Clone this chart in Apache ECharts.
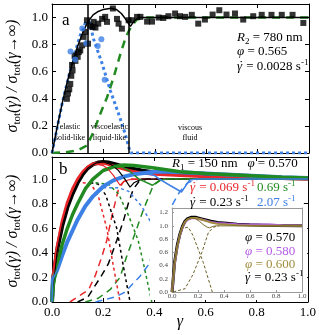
<!DOCTYPE html>
<html><head><meta charset="utf-8">
<script src="https://cdn.jsdelivr.net/npm/echarts/dist/echarts.min.js"></script>
<style>html,body{margin:0;padding:0;background:#fff}#c{width:319px;height:335px}</style>
</head><body><div id="c"></div>
<script>
const F = '"Liberation Serif","Times New Roman",serif';
const RED = '#e8262a', BLK = '#000000', GRN = '#218a21', BLU = '#3d80e6', PUR = '#b45ae6', OLV = '#a08c3c';

// ---------- panel a ----------
const aRegionBounds = [0.14, 0.305];
const aSquares = [[0.058,0.40],[0.062,0.44],[0.067,0.47],[0.071,0.51],[0.075,0.57],[0.078,0.65],[0.08,0.61],[0.088,0.72],[0.091,0.68],[0.10,0.71],[0.104,0.745],[0.11,0.757],[0.117,0.795],[0.123,0.857],[0.13,0.894],[0.14,0.807],[0.136,0.98],[0.149,0.94],[0.158,0.93],[0.162,0.968],[0.169,0.926],[0.18,0.955],[0.195,0.99],[0.207,1.005],[0.214,0.968],[0.237,1.067],[0.253,0.99],[0.259,0.955],[0.272,0.918],[0.298,0.98],[0.311,0.98],[0.331,1.005],[0.344,1.005],[0.37,0.97],[0.389,0.97],[0.415,1.0],[0.433,0.997],[0.453,1.01],[0.479,1.03],[0.498,1.01],[0.518,1.005],[0.544,1.02],[0.569,0.955],[0.595,0.985],[0.625,1.022],[0.651,1.054],[0.679,1.022],[0.712,1.03],[0.744,0.985],[0.783,1.01],[0.816,1.02],[0.854,1.02],[0.894,1.02],[0.936,1.02],[0.978,0.96]];
const aCircles = [[0.072,0.75],[0.09,0.69],[0.118,0.92],[0.133,0.81],[0.178,0.79],[0.192,0.84],[0.205,0.54]];
const aFit = [[0,0],[0.02,0.19],[0.04,0.37],[0.06,0.53],[0.08,0.67],[0.1,0.79],[0.12,0.89],[0.14,0.97],[0.16,1.02],[0.18,1.045],[0.2,1.06],[0.23,1.068],[0.25,1.06],[0.27,1.03],[0.29,0.98],[0.305,0.935],[0.32,0.975],[0.34,1.0],[0.4,1.0],[1.0,1.0]];
const aElastic = [[0,0],[0.04,0.37],[0.08,0.68],[0.11,0.87],[0.13,0.96],[0.145,0.97],[0.162,0.84],[0.195,0.66],[0.227,0.46],[0.259,0.29],[0.285,0.14],[0.305,0],[1.0,0]];
const aViscous = [[0,0],[0.05,0.005],[0.1,0.02],[0.136,0.055],[0.16,0.15],[0.188,0.29],[0.214,0.41],[0.24,0.56],[0.266,0.73],[0.288,0.86],[0.307,0.93],[0.33,0.985],[0.36,1.0],[1.0,1.0]];

// ---------- panel b ----------
const bRedData = [[0,0],[0.005,0.22],[0.02,0.45],[0.04,0.66],[0.06,0.81],[0.08,0.92],[0.1,1.0],[0.12,1.06],[0.14,1.1],[0.16,1.125],[0.18,1.13],[0.2,1.13],[0.22,1.12],[0.25,1.1],[0.3,1.07],[0.35,1.05],[0.4,1.04],[0.5,1.03],[0.6,1.02],[0.7,1.015],[0.8,1.01],[0.9,1.005],[1.0,1.0]];
const bBlackData = [[0,0],[0.005,0.2],[0.02,0.42],[0.04,0.62],[0.06,0.77],[0.08,0.88],[0.1,0.97],[0.12,1.04],[0.14,1.09],[0.16,1.12],[0.18,1.135],[0.2,1.14],[0.22,1.135],[0.25,1.12],[0.3,1.09],[0.35,1.07],[0.4,1.055],[0.5,1.04],[0.6,1.03],[0.7,1.02],[0.8,1.015],[0.9,1.01],[1.0,1.005]];
const bGreenData = [[0,0],[0.005,0.15],[0.02,0.3],[0.04,0.47],[0.06,0.6],[0.08,0.71],[0.1,0.8],[0.13,0.92],[0.16,1.0],[0.2,1.07],[0.24,1.1],[0.28,1.115],[0.32,1.11],[0.36,1.1],[0.4,1.09],[0.5,1.06],[0.6,1.045],[0.7,1.035],[0.8,1.025],[0.9,1.015],[1.0,1.01]];
const bBlueData = [[0,0],[0.003,0.18],[0.02,0.26],[0.04,0.38],[0.06,0.49],[0.08,0.58],[0.1,0.67],[0.13,0.78],[0.16,0.86],[0.2,0.94],[0.24,0.99],[0.28,1.02],[0.32,1.04],[0.36,1.05],[0.4,1.06],[0.45,1.06],[0.5,1.055],[0.6,1.045],[0.7,1.035],[0.8,1.025],[0.9,1.015],[1.0,1.01]];

const bRedFit = [[0,0],[0.02,0.44],[0.04,0.65],[0.06,0.8],[0.08,0.91],[0.1,0.99],[0.12,1.05],[0.14,1.09],[0.16,1.115],[0.18,1.12],[0.2,1.11],[0.22,1.08],[0.24,1.03],[0.266,0.95],[0.28,0.98],[0.3,0.995],[0.35,1.0],[1.0,1.0]];
const bBlackFit = [[0,0],[0.02,0.41],[0.04,0.62],[0.06,0.77],[0.08,0.88],[0.1,0.97],[0.12,1.04],[0.14,1.09],[0.17,1.13],[0.2,1.14],[0.23,1.12],[0.26,1.07],[0.285,1.0],[0.305,0.935],[0.32,0.97],[0.35,1.0],[1.0,1.0]];
const bGreenFit = [[0,0],[0.02,0.3],[0.04,0.47],[0.06,0.6],[0.08,0.71],[0.1,0.8],[0.13,0.92],[0.16,1.0],[0.2,1.07],[0.24,1.1],[0.27,1.1],[0.3,1.07],[0.34,1.0],[0.393,0.95],[0.42,0.99],[0.45,1.0],[1.0,1.0]];
const bBlueFit = [[0,0],[0.003,0.18],[0.02,0.26],[0.04,0.38],[0.06,0.49],[0.08,0.58],[0.1,0.67],[0.13,0.78],[0.16,0.86],[0.2,0.94],[0.24,0.99],[0.28,1.02],[0.32,1.04],[0.36,1.05],[0.4,1.03],[0.42,1.0],[0.46,0.95],[0.506,0.895],[0.537,0.99],[0.56,1.0],[1.0,1.0]];

const bRedElastic = [[0.12,0.97],[0.15,0.965],[0.18,0.87],[0.214,0.6],[0.24,0.29],[0.266,0]];
const bBlackElastic = [[0.15,0.97],[0.18,0.96],[0.21,0.87],[0.253,0.6],[0.279,0.29],[0.305,0]];
const bGreenElastic = [[0.17,0.97],[0.22,0.96],[0.26,0.88],[0.3,0.7],[0.337,0.5],[0.363,0.26],[0.39,0]];
const bBlueElastic = [[0.2,0.93],[0.26,0.93],[0.3,0.9],[0.35,0.78],[0.4,0.6],[0.45,0.35],[0.5,0.05],[0.51,0]];

const bRedViscous = [[0.07,0],[0.1,0.04],[0.143,0.1],[0.17,0.22],[0.195,0.37],[0.214,0.5],[0.233,0.69],[0.26,0.92],[0.28,0.98],[0.31,1.0],[1.0,1.0]];
const bBlackViscous = [[0.1,0],[0.14,0.04],[0.195,0.22],[0.22,0.31],[0.253,0.5],[0.279,0.66],[0.298,0.8],[0.318,0.92],[0.34,0.98],[0.37,1.0],[1.0,1.0]];
const bGreenViscous = [[0.13,0],[0.18,0.03],[0.227,0.1],[0.266,0.2],[0.29,0.36],[0.318,0.52],[0.357,0.75],[0.396,0.95],[0.43,1.0],[1.0,1.0]];
const bBlueViscous = [[0.17,0],[0.246,0.04],[0.285,0.08],[0.344,0.21],[0.376,0.3],[0.41,0.48],[0.44,0.66],[0.467,0.78],[0.5,0.9],[0.53,0.97],[0.57,1.0],[1.0,1.0]];

// ---------- inset ----------
const iBlackData = [[0,0],[0.005,0.1],[0.02,0.45],[0.04,0.7],[0.06,0.87],[0.08,0.99],[0.1,1.07],[0.12,1.11],[0.15,1.13],[0.18,1.13],[0.22,1.11],[0.26,1.09],[0.3,1.07],[0.35,1.05],[0.42,1.04],[0.5,1.025],[0.6,1.015],[0.7,1.01],[0.8,1.005],[1.0,1.0]];
const iPurpleData = [[0,0],[0.02,0.42],[0.04,0.67],[0.06,0.85],[0.08,0.97],[0.1,1.05],[0.12,1.09],[0.15,1.115],[0.18,1.115],[0.22,1.1],[0.26,1.08],[0.3,1.06],[0.35,1.045],[0.42,1.035],[0.5,1.025],[0.6,1.02],[0.75,1.02],[0.85,1.01],[1.0,1.005]];
const iOliveData = [[0,0],[0.02,0.43],[0.04,0.68],[0.06,0.86],[0.08,0.98],[0.1,1.06],[0.12,1.1],[0.15,1.12],[0.18,1.12],[0.22,1.1],[0.26,1.075],[0.3,1.05],[0.35,1.03],[0.42,1.02],[0.5,1.01],[0.6,1.005],[1.0,1.0]];
const iFit = [[0,0],[0.02,0.45],[0.04,0.68],[0.06,0.85],[0.08,0.97],[0.1,1.05],[0.12,1.1],[0.15,1.12],[0.18,1.11],[0.21,1.07],[0.24,1.02],[0.27,0.98],[0.29,0.97],[0.31,0.99],[0.34,1.0],[1.0,1.0]];
const iElastic = [[0.1,0.97],[0.125,0.98],[0.16,0.86],[0.24,0.45],[0.31,0]];
const iViscous = [[0.01,0],[0.1,0.05],[0.16,0.26],[0.23,0.6],[0.28,0.9],[0.32,0.98],[0.36,1.0]];

const fmt02 = v => (Math.abs(v * 5 - Math.round(v * 5)) < 1e-6 ? v.toFixed(1) : '');

function xax(g, pos, label, color, fs, len, z) {
  return {type:'value', gridIndex:g, position:pos, min:0, max:1, interval:0.2, z:z,
    axisLine:{show:true, onZero:false, lineStyle:{color:color, width:1}},
    axisTick:{show:len>0, inside:true, length:len, lineStyle:{color:color}},
    axisLabel:{show:label, color:g===2?'#444':'#000', fontFamily:F, fontSize:fs, margin:g===2?1:4, formatter:fmt02},
    splitLine:{show:false}};
}
function yax(g, pos, label, color, fs, len, max, z) {
  return {type:'value', gridIndex:g, position:pos, min:0, max:max, interval:0.2, z:z,
    axisLine:{show:true, onZero:false, lineStyle:{color:color, width:1}},
    axisTick:{show:len>0, inside:true, length:len, lineStyle:{color:color}},
    axisLabel:{show:label, color:g===2?'#444':'#000', fontFamily:F, fontSize:fs, margin:4, formatter:fmt02},
    splitLine:{show:false}};
}
function ln(ax, data, color, width, type, z) {
  return {type:'line', xAxisIndex:ax, yAxisIndex:ax, data:data, showSymbol:false, symbol:'none', z:z,
    lineStyle:{color:color, width:width, type:type}, silent:true, animation:false};
}

function rich(size, color) {
  return {
    n:{fontFamily:F, fontSize:size, fill:color, verticalAlign:'middle', lineHeight:size+4},
    i:{fontFamily:F, fontSize:size, fontStyle:'italic', fill:color, verticalAlign:'middle', lineHeight:size+4},
    sub:{fontFamily:F, fontSize:Math.round(size*0.7), fill:color, verticalAlign:'bottom', lineHeight:Math.round(size*0.7)},
    sup:{fontFamily:F, fontSize:Math.round(size*0.7), fill:color, verticalAlign:'top', lineHeight:Math.round(size*0.7)}
  };
}
function txt(x, y, text, size, color, align, extra) {
  return Object.assign({type:'text', x:x, y:y, z:20, silent:true,
    style:{text:text, rich:rich(size, color), align:align||'left', verticalAlign:'middle', fill:color, fontFamily:F, fontSize:size}}, extra||{});
}
// gamma-dot followed by the rest of the text
function gdot(x, y, rest, size, color) {
  return [
    txt(x, y, '{i|γ}', size, color),
    txt(x + 4.2, y - 1, '{n|˙}', size, color, 'center'),
    txt(x + 6, y, rest, size, color)
  ];
}
const ylab = '{i|σ}{sub|tot}{i|(γ) / σ}{sub|tot}{i|(γ→∞)}';

const option = {
  animation:false,
  backgroundColor:'#fff',
  grid:[
    {left:52, right:10, top:4, height:149},
    {left:52, right:10, top:157, height:145},
    {left:172, right:17, top:208, height:84}
  ],
  xAxis:[
    xax(0,'bottom',false,'#000',13,4,1), xax(0,'top',false,'#000',13,4,1),
    xax(1,'bottom',true,'#000',13,4,1), xax(1,'top',false,'#000',13,4,1),
    xax(2,'bottom',true,'#999',7,2,11), xax(2,'top',false,'#999',7,0,11)
  ],
  yAxis:[
    yax(0,'left',true,'#000',13,4,1.1,1), yax(0,'right',false,'#000',13,4,1.1,1),
    yax(1,'left',true,'#000',13,4,1.18,1), yax(1,'right',false,'#000',13,4,1.18,1),
    yax(2,'left',true,'#999',7,2,1.27,11), yax(2,'right',false,'#999',7,0,1.27,11)
  ],
  series:[
    // panel a
    ln(0, aViscous, GRN, 2.5, [8,6], 2),
    ln(0, aElastic, BLU, 3, [3,3], 2),
    Object.assign(ln(0, aFit, BLK, 1.5, 'solid', 3), {
      markLine:{silent:true, symbol:'none', label:{show:false}, lineStyle:{color:'#000', width:1.5, type:'solid'},
        data:aRegionBounds.map(v => ({xAxis:v}))}
    }),
    {type:'scatter', xAxisIndex:0, yAxisIndex:0, data:aSquares, symbol:'rect', symbolSize:6, itemStyle:{color:'#000'}, z:4, silent:true},
    {type:'scatter', xAxisIndex:0, yAxisIndex:0, data:aCircles, symbol:'circle', symbolSize:6, itemStyle:{color:BLU}, z:4, silent:true},
    // panel b dashed components
    ln(2, bRedViscous, RED, 1.5, [7,5], 2), ln(2, bBlackViscous, BLK, 1.5, [7,5], 2),
    ln(2, bGreenViscous, GRN, 1.5, [7,5], 2), ln(2, bBlueViscous, BLU, 1.5, [7,5], 2),
    ln(2, bRedElastic, RED, 1.5, [3,3], 2), ln(2, bBlackElastic, BLK, 1.5, [3,3], 2),
    ln(2, bGreenElastic, GRN, 1.5, [3,3], 2), ln(2, bBlueElastic, BLU, 1.5, [3,3], 2),
    // panel b data bands
    ln(2, bBlackData, BLK, 4, 'solid', 3), ln(2, bRedData, RED, 3, 'solid', 3),
    ln(2, bBlueData, BLU, 4, 'solid', 3), ln(2, bGreenData, GRN, 3.5, 'solid', 3),
    // panel b fits
    ln(2, bRedFit, RED, 1.2, 'solid', 4), ln(2, bBlackFit, BLK, 1.2, 'solid', 4),
    ln(2, bGreenFit, GRN, 1.5, 'solid', 4), ln(2, bBlueFit, BLU, 1.5, 'solid', 4),
    // inset
    ln(4, iElastic, '#6e5f2a', 1, [3,2], 12), ln(4, iViscous, '#6e5f2a', 1, [3,2], 12),
    ln(4, iBlackData, BLK, 3, 'solid', 13), ln(4, iPurpleData, PUR, 2, 'solid', 13),
    ln(4, iOliveData, OLV, 2, 'solid', 13), ln(4, iFit, '#7a6a2c', 1, 'solid', 14)
  ],
  graphic:[
    {type:'rect', z:10, silent:true, shape:{x:150, y:205, width:157, height:95}, style:{fill:'#fff'}},
    txt(13, 76, ylab, 16, '#000', 'center', {rotation:Math.PI/2}),
    txt(13, 231, ylab, 16, '#000', 'center', {rotation:Math.PI/2}),
    txt(62, 21, '{n|a}', 17, '#000'),
    txt(59, 170, '{n|b}', 17, '#000'),
    txt(237, 38, '{i|R}{sub|2}{n| = 780 nm}', 13, '#000'),
    txt(237, 52, '{i|φ}{n| = 0.565}', 13, '#000'),
    ...gdot(237, 67, '{n| = 0.0028 s}{sup|-1}', 13, '#000'),
    txt(70, 127, '{n|elastic}', 8, '#000', 'center'),
    txt(70, 138, '{n|solid-like}', 8, '#000', 'center'),
    txt(109.5, 127, '{n|viscoelastic}', 8, '#000', 'center'),
    txt(109.5, 138, '{n|liquid-like}', 8, '#000', 'center'),
    txt(190, 128, '{n|viscous}', 8, '#000', 'center'),
    txt(190, 138, '{n|fluid}', 8, '#000', 'center'),
    txt(172, 164, '{i|R}{sub|1}{n| = 150 nm   }{i|φ}{n| = 0.570}', 13, '#000'),
    ...gdot(190, 188, '{n| = 0.069 s}{sup|-1}', 13, RED),
    txt(257, 188, '{n|0.69 s}{sup|-1}', 13, GRN),
    ...gdot(190, 203, '{n| = 0.23 s}{sup|-1}', 13, '#000'),
    txt(257, 203, '{n|2.07 s}{sup|-1}', 13, BLU),
    txt(245, 238, '{i|φ}{n| = 0.570}', 13, '#000'),
    txt(245, 252, '{i|φ}{n| = 0.580}', 13, PUR),
    txt(245, 265, '{i|φ}{n| = 0.600}', 13, OLV),
    ...gdot(245, 278, '{n| = 0.23 s}{sup|-1}', 13, '#000'),
    txt(180, 322, '{i|γ}', 16, '#000', 'center')
  ]
};
const chart = echarts.init(document.getElementById('c'), null, {renderer:'canvas'});
chart.setOption(option);
</script></body></html>
